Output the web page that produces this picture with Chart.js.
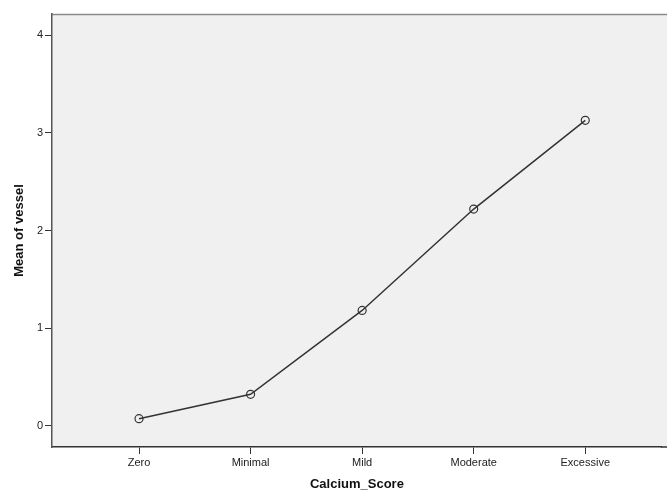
<!DOCTYPE html>
<html>
<head>
<meta charset="utf-8">
<script src="https://cdn.jsdelivr.net/npm/chart.js@4/dist/chart.umd.min.js"></script>
<style>
  html, body { margin: 0; padding: 0; background: #ffffff; }
  #wrap { width: 667px; height: 492px; }
</style>
</head>
<body>
<div id="wrap"><canvas id="chart"></canvas></div>
<script>
// Chart data
const categories = ["Zero", "Minimal", "Mild", "Moderate", "Excessive"];
const meanVessel = [0.07, 0.32, 1.18, 2.22, 3.13];
const yTicks = [0, 1, 2, 3, 4];

// Plot background and frame (SPSS style), running to the right edge
const frame = {
  id: "frame",
  beforeDraw(chart) {
    const { ctx, chartArea: a } = chart;
    ctx.save();
    ctx.fillStyle = "#f0f0f0";
    ctx.fillRect(a.left, a.top, chart.width - a.left, a.bottom - a.top);
    ctx.strokeStyle = "#8a8a8a";
    ctx.lineWidth = 1.5;
    ctx.beginPath();
    ctx.moveTo(a.left, a.top + 0.5);
    ctx.lineTo(chart.width, a.top + 0.5);
    ctx.stroke();
    ctx.restore();
  },
  afterDraw(chart) {
    const { ctx, chartArea: a } = chart;
    ctx.save();
    ctx.strokeStyle = "#333333";
    ctx.lineWidth = 1.5;
    ctx.beginPath();
    ctx.moveTo(a.right - 1, a.bottom);
    ctx.lineTo(chart.width, a.bottom);
    ctx.stroke();
    ctx.restore();
  },
};

new Chart(document.getElementById("chart"), {
  type: "line",
  data: {
    datasets: [
      {
        data: meanVessel.map((v, i) => ({ x: i, y: v })),
        borderColor: "#333333",
        borderWidth: 1.5,
        pointRadius: 4,
        pointBorderWidth: 1.2,
        pointBorderColor: "#333333",
        pointBackgroundColor: "rgba(0,0,0,0)",
        tension: 0,
      },
    ],
  },
  options: {
    responsive: true,
    maintainAspectRatio: false,
    animation: false,
    layout: { padding: { top: 14, right: 0, left: 0, bottom: 0 } },
    plugins: { legend: { display: false }, tooltip: { enabled: false } },
    scales: {
      x: {
        type: "linear",
        min: -0.78,
        max: 4.686,
        afterBuildTicks: (axis) => {
          axis.ticks = categories.map((c, i) => ({ value: i }));
        },
        afterFit: (axis) => { axis.height = 45; },
        ticks: {
          callback: (v) => categories[v],
          color: "#222222",
          font: { family: "Arial, Liberation Sans", size: 11 },
          padding: 2,
          maxRotation: 0,
        },
        grid: { drawOnChartArea: false, drawTicks: true, tickLength: 7, color: "#333333" },
        border: { display: true, color: "#333333", width: 1.5 },
        title: {
          display: true,
          text: "Calcium_Score",
          color: "#111111",
          font: { family: "Arial, Liberation Sans", size: 13, weight: "bold" },
          padding: { top: 9, bottom: 0 },
        },
      },
      y: {
        min: -0.22,
        max: 4.22,
        afterBuildTicks: (axis) => {
          axis.ticks = yTicks.map((v) => ({ value: v }));
        },
        afterFit: (axis) => { axis.width = 52; },
        ticks: {
          color: "#222222",
          font: { family: "Arial, Liberation Sans", size: 11 },
          padding: 2,
        },
        grid: { drawOnChartArea: false, drawTicks: true, tickLength: 7, color: "#333333" },
        border: { display: true, color: "#555555", width: 1.5 },
        title: {
          display: true,
          text: "Mean of vessel",
          color: "#111111",
          font: { family: "Arial, Liberation Sans", size: 13, weight: "bold" },
          padding: { top: 12, bottom: 4 },
        },
      },
    },
  },
  plugins: [frame],
});
</script>
</body>
</html>
